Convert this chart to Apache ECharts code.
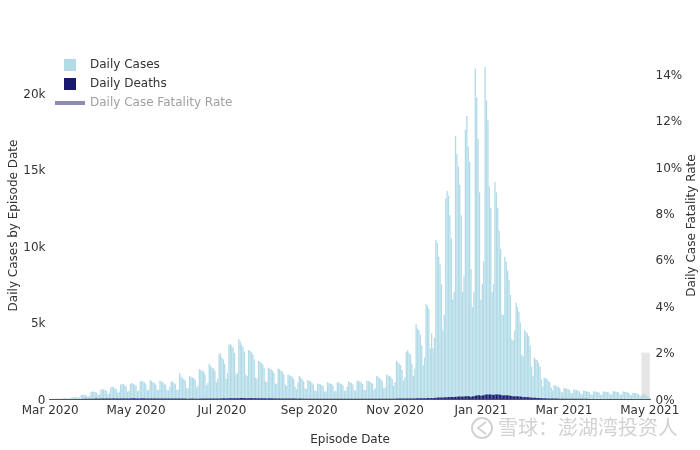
<!DOCTYPE html>
<html>
    <head>
        <meta charset="utf-8">
        <title>Daily Cases</title>
        <script src="https://cdn.jsdelivr.net/npm/echarts@6/dist/echarts.min.js"></script>
        <style>html,body{margin:0;padding:0;background:#fff}</style>
    </head>
    <body>
        <div id="main" style="width:700px;height:450px;"></div>
        <script type="text/javascript">
            // one row = one week, Sunday first, starting Sun 1 Mar 2020
            var dailyCases=[
                5,12,15,20,25,30,18,
                20,45,50,60,55,50,30,
                45,100,120,130,125,110,70,
                110,240,280,270,260,220,130,
                220,450,500,480,460,410,240,
                300,600,650,620,580,520,300,
                380,720,800,770,700,640,390,
                480,950,1000,970,900,810,480,
                520,1000,1050,980,930,860,520,
                560,1150,1200,1130,1080,960,560,
                620,1220,1180,1100,1050,950,600,
                600,1200,1160,1090,1000,930,590,
                560,800,1150,1120,1040,960,600,
                620,1700,1450,1350,1300,1200,700,
                700,1500,1450,1400,1380,1250,760,
                850,1950,1900,1850,1800,1600,900,
                1050,2300,2150,2050,2000,1850,1100,
                1300,2900,3000,2700,2600,2300,1300,
                1700,3550,3600,3500,3350,3000,1600,
                1700,3900,3750,3550,3400,3100,1600,
                1500,3200,3150,3050,2900,2600,1400,
                1300,2500,2450,2350,2250,2050,1150,
                1100,2050,2000,1950,1850,1700,1000,
                1000,2000,1950,1850,1800,1600,950,
                850,1600,1550,1500,1450,1300,800,
                650,1100,1500,1400,1300,1150,700,
                650,1250,1200,1150,1050,950,550,
                520,1000,980,950,900,820,480,
                500,1100,1050,1000,980,850,500,
                520,1100,1080,1020,980,900,520,
                540,800,1150,1100,1050,950,540,
                560,1200,1180,1150,1080,980,580,
                580,1200,1180,1130,1100,1000,600,
                700,1500,1450,1350,1300,1150,700,
                750,1600,1550,1500,1450,1300,850,
                1100,2500,2400,2300,2200,1900,1200,
                1400,3050,3200,3000,2900,2300,1500,
                2000,4900,4600,4500,4200,3500,2200,
                2700,6200,6100,5900,3300,4300,3300,
                4000,10400,10200,9300,8800,7500,4500,
                5500,13100,13600,13300,12000,10500,6500,
                7000,17200,16000,15200,14000,12000,7000,
                8000,17600,18500,16500,15500,8500,6000,
                7000,21600,19700,17000,13500,6500,7500,
                9000,21700,19500,18200,13900,12500,7000,
                7500,14200,13500,12500,11000,9800,5500,
                5500,9300,9000,8400,7800,6800,3900,
                3800,4500,6300,6000,5700,5000,2900,
                2800,4500,4400,4300,4100,3500,2100,
                1500,2700,2600,2550,2350,2100,1300,
                800,1400,1350,1300,1200,1100,750,
                550,900,880,840,800,720,480,
                430,720,700,680,640,600,400,
                380,620,600,580,550,500,340,
                330,550,530,510,480,450,300,
                300,500,490,470,450,420,280,
                300,500,480,470,450,420,270,
                310,520,500,480,460,430,280,
                290,500,480,450,440,400,270,
                250,420,400,390,360,330,210,
                190,330,310,270,220,150,60
            ];
            var dailyDeaths=[
                0,0,0,0,1,1,1,
                1,1,1,2,2,2,2,
                2,3,3,4,5,5,5,
                6,8,9,10,12,12,12,
                14,18,20,24,26,26,24,
                28,30,34,36,36,34,30,
                32,36,38,40,38,36,32,
                34,38,40,42,40,38,34,
                36,40,42,44,42,40,36,
                36,40,42,44,42,40,36,
                34,38,40,40,40,38,34,
                32,36,38,38,36,34,32,
                30,32,34,34,32,30,28,
                26,28,28,28,26,26,24,
                24,24,26,26,26,24,24,
                24,26,26,28,28,28,26,
                28,30,30,32,34,34,32,
                32,36,38,40,42,42,40,
                40,44,48,52,54,54,52,
                52,56,60,62,62,60,56,
                54,56,58,58,56,54,52,
                48,50,50,50,48,46,44,
                40,42,42,42,40,38,36,
                34,36,36,36,34,34,32,
                30,30,30,30,28,28,26,
                24,24,26,26,24,24,22,
                20,20,22,22,20,20,20,
                18,18,20,20,18,18,18,
                16,18,18,18,18,18,16,
                16,18,18,18,18,18,16,
                16,16,18,18,18,18,16,
                16,18,18,18,18,18,18,
                18,20,20,20,20,20,18,
                18,20,20,22,22,20,20,
                20,22,24,24,24,24,22,
                22,26,28,28,28,28,26,
                28,32,34,36,36,36,34,
                36,42,46,48,50,50,48,
                50,56,62,66,50,62,64,
                68,78,86,92,96,94,92,
                96,108,118,124,128,128,124,
                128,140,150,158,162,160,154,
                160,176,186,190,160,150,170,
                186,212,232,244,250,210,236,
                250,282,296,300,302,296,280,
                262,290,296,296,288,272,252,
                228,240,244,236,226,210,192,
                172,160,182,178,170,156,140,
                122,130,128,122,112,102,90,
                78,80,76,72,66,60,52,
                44,44,42,40,36,34,30,
                26,28,26,26,24,22,20,
                18,18,18,16,16,14,14,
                12,12,12,12,12,10,10,
                10,10,10,10,10,8,8,
                8,8,8,8,8,6,6,
                6,6,6,6,6,6,6,
                6,6,6,6,6,6,6,
                6,6,6,6,6,6,6,
                6,6,6,6,6,4,4,
                4,4,4,2,2,1,0
            ];
            var fatalityRate=[]; // series is switched off in the original, only the legend entry shows
            var tickK=[0,5000,10000,15000,20000];
            var shadeFrom='2021-04-25', shadeTo='2021-05-01', shadeRate=2;

            var startDay=Date.UTC(2020,2,1);
            var days=dailyCases.map(function(v,i){
                return new Date(startDay+i*86400000).toISOString().slice(0,10);
            });
            var months=['Jan','Feb','Mar','Apr','May','Jun','Jul','Aug','Sep','Oct','Nov','Dec'];
            var font='"DejaVu Sans"';
            var markColor='#d2d2d2';
            // nudges the y tick labels down a touch, plain padding does nothing when centred
            var tickRich={t:{fontFamily:font,fontSize:12,color:'#333',padding:[3,0,0,0]}};

            var myChart=echarts.init(document.getElementById('main'),null,{renderer:'canvas'});
            var option={
                animation:false,
                backgroundColor:'#fff',
                textStyle:{fontFamily:font},
                legend:{
                    orient:'vertical',left:50,top:54,itemWidth:30,itemHeight:12,itemGap:7,
                    selectedMode:false,
                    textStyle:{fontFamily:font,fontSize:12,color:'#333'},
                    data:[
                        {name:'Daily Cases',icon:'path://M0 0h10v10H0z'},
                        {name:'Daily Deaths',icon:'path://M0 0h10v10H0z'},
                        {name:'Daily Case Fatality Rate',icon:'path://M0 0h30v4H0z',textStyle:{color:'#a0a0a0'}}
                    ]
                },
                grid:{left:49.5,right:49.5,top:66,bottom:51,outerBoundsMode:'none'},
                xAxis:{
                    type:'category',data:days,boundaryGap:true,
                    name:'Episode Date',nameLocation:'middle',nameGap:35,nameMoveOverlap:false,
                    nameTextStyle:{fontFamily:font,fontSize:12,color:'#333'},
                    axisTick:{show:false},
                    axisLine:{lineStyle:{color:'#555',width:1}},
                    axisLabel:{
                        fontFamily:font,fontSize:12,color:'#333',margin:6,
                        interval:function(i,v){
                            return v.slice(8)==='01' && parseInt(v.slice(5,7),10)%2===1;
                        },
                        formatter:function(v){
                            return months[parseInt(v.slice(5,7),10)-1]+' '+v.slice(0,4);
                        }
                    }
                },
                yAxis:[{
                    type:'value',min:0,max:21760,interval:tickK[1],
                    name:'Daily Cases by Episode Date',nameLocation:'middle',nameGap:30,nameRotate:90,nameMoveOverlap:false,
                    nameTextStyle:{fontFamily:font,fontSize:12,color:'#333',padding:[0,0,0,14]},
                    splitLine:{show:false},axisLine:{show:false},axisTick:{show:false},
                    axisLabel:{margin:4,showMaxLabel:false,rich:tickRich,
                        formatter:function(v){return '{t|'+(v===0?'0':(v/1000)+'k')+'}';}}
                },{
                    type:'value',min:0,max:14.35,interval:2,
                    name:'Daily Case Fatality Rate',nameLocation:'middle',nameGap:35,nameRotate:90,nameMoveOverlap:false,
                    nameTextStyle:{fontFamily:font,fontSize:12,color:'#333',padding:[0,0,0,14]},
                    splitLine:{show:false},axisLine:{show:false},axisTick:{show:false},
                    axisLabel:{margin:5,showMaxLabel:false,rich:tickRich,
                        formatter:function(v){return '{t|'+v+'%}';}}
                }],
                series:[{
                    name:'Daily Cases',type:'bar',data:dailyCases,barWidth:1.3,barGap:'-100%',
                    itemStyle:{color:'#b2dbe8'},z:2
                },{
                    name:'Daily Deaths',type:'bar',data:dailyDeaths,barWidth:1.3,barGap:'-100%',
                    itemStyle:{color:'#191970'},z:3
                },{
                    name:'Daily Case Fatality Rate',type:'line',yAxisIndex:1,data:fatalityRate,
                    itemStyle:{color:'#8e8cb4'},lineStyle:{color:'#8e8cb4',width:3},showSymbol:false,
                    markArea:{silent:true,itemStyle:{color:'rgba(190,190,190,0.4)'},
                        data:[[{xAxis:shadeFrom,yAxis:0},{xAxis:shadeTo,yAxis:shadeRate}]]}
                }],
                graphic:[{
                    type:'text',left:498,top:417,silent:true,
                    style:{text:'雪球：澎湖湾投资人',fontFamily:'"Noto Sans CJK SC"',fontSize:20,fill:markColor}
                },{
                    type:'circle',shape:{cx:482,cy:428,r:10},silent:true,
                    style:{fill:'none',stroke:markColor,lineWidth:2}
                },{
                    type:'polyline',shape:{points:[[486,422],[478,428],[486,434]]},silent:true,
                    style:{fill:'none',stroke:markColor,lineWidth:2}
                }]
            };
            myChart.setOption(option);
        </script>
    </body>
</html>
